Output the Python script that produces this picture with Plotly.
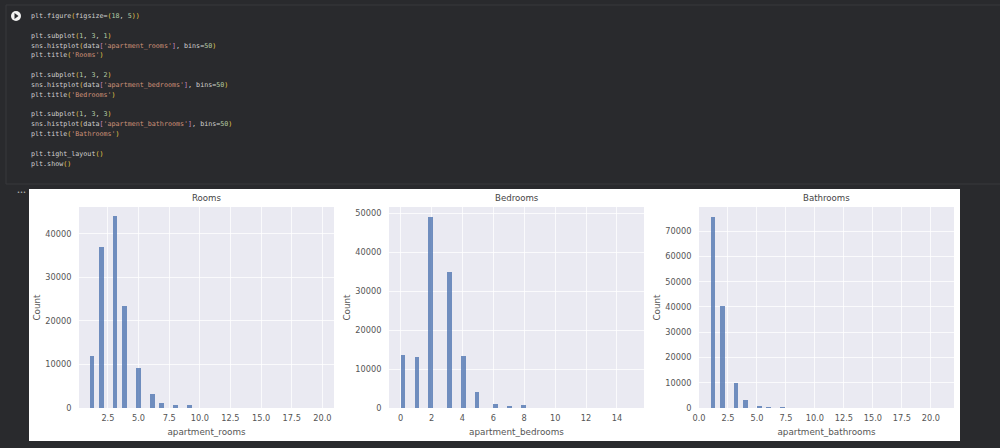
import numpy as np
import plotly.graph_objects as go

W, H = 1000, 448

rooms_values = [1, 2, 3, 4, 5, 6, 7, 8, 9]
rooms_counts = [12000, 37000, 44200, 23400, 9100, 3200, 1200, 600, 800]
bedrooms_values = [0, 1, 2, 3, 4, 5, 6, 7, 8]
bedrooms_counts = [13700, 13000, 49200, 35100, 13300, 4200, 1100, 600, 900]
bathrooms_values = [1, 2, 3, 4, 5, 6, 7, 8]
bathrooms_counts = [75800, 40300, 10100, 3300, 900, 400, 300, 100]

code_lines = [
    "plt.figure(figsize=(18, 5))",
    "",
    "plt.subplot(1, 3, 1)",
    "sns.histplot(data['apartment_rooms'], bins=50)",
    "plt.title('Rooms')",
    "",
    "plt.subplot(1, 3, 2)",
    "sns.histplot(data['apartment_bedrooms'], bins=50)",
    "plt.title('Bedrooms')",
    "",
    "plt.subplot(1, 3, 3)",
    "sns.histplot(data['apartment_bathrooms'], bins=50)",
    "plt.title('Bathrooms')",
    "",
    "plt.tight_layout()",
    "plt.show()",
]

BAR = "rgba(76,114,176,0.78)"
GRID_BG = "#eaeaf2"
GRID = "rgba(255,255,255,0.75)"
TICK = "#555555"
DARK = "#292a2d"


def colour_code(line):
    # rough syntax colours, same as the notebook
    out = ""
    in_str = False
    for ch in line:
        if ch == "'":
            if not in_str:
                out += "<span style='color:#ce9178'>'"
            else:
                out += "'</span>"
            in_str = not in_str
        elif in_str:
            out += ch
        elif ch in "()":
            out += "<span style='color:#e6c84a'>" + ch + "</span>"
        elif ch in "[]":
            out += "<span style='color:#c586c0'>" + ch + "</span>"
        elif ch.isdigit():
            out += "<span style='color:#b5cea8'>" + ch + "</span>"
        else:
            out += ch
    return out


fig = go.Figure()

panels = [
    ("Rooms", "apartment_rooms", rooms_values, rooms_counts, (1, 20), (79, 334),
     [0.14, 20.95], 46200, [2.5, 5, 7.5, 10, 12.5, 15, 17.5, 20], [0, 10000, 20000, 30000, 40000]),
    ("Bedrooms", "apartment_bedrooms", bedrooms_values, bedrooms_counts, (0, 15), (389, 644),
     [-0.75, 15.75], 51700, [0, 2, 4, 6, 8, 10, 12, 14], [0, 10000, 20000, 30000, 40000, 50000]),
    ("Bathrooms", "apartment_bathrooms", bathrooms_values, bathrooms_counts, (1, 21), (699, 954),
     [0, 22], 79600, [0, 2.5, 5, 7.5, 10, 12.5, 15, 17.5, 20],
     [0, 10000, 20000, 30000, 40000, 50000, 60000, 70000]),
]

layout_axes = {}
for n, (title, xlabel, vals, counts, rng, px, xr, ytop, xt, yt) in enumerate(panels, start=1):
    # same binning as histplot(bins=50)
    hist, edges = np.histogram(vals, bins=50, range=rng, weights=counts)
    fig.add_trace(go.Bar(
        x=edges[:-1], y=hist, width=np.diff(edges), offset=0,
        marker=dict(color=BAR, line=dict(width=0)),
        xaxis="x%d" % n, yaxis="y%d" % n, showlegend=False,
    ))
    xtext = ["%g" % t if n == 2 else "%.1f" % t for t in xt]
    layout_axes["xaxis%d" % n] = dict(
        domain=[px[0] / W, px[1] / W], range=xr, anchor="y%d" % n,
        tickvals=xt, ticktext=xtext, ticks="outside", ticklen=2, tickcolor="rgba(0,0,0,0)",
        showline=False, zeroline=False,
        gridcolor=GRID, gridwidth=1, tickfont=dict(size=8.2, color=TICK),
        title=dict(text=xlabel, font=dict(size=8.8, color=TICK), standoff=7),
        automargin=False,
    )
    layout_axes["yaxis%d" % n] = dict(
        domain=[(H - 408) / H, (H - 207) / H], range=[0, ytop], anchor="x%d" % n,
        tickvals=yt, ticks="outside", ticklen=5, tickcolor="rgba(0,0,0,0)",
        showline=False, zeroline=False, tickformat="d",
        gridcolor=GRID, gridwidth=1, tickfont=dict(size=8.2, color=TICK),
        title=dict(text="Count", font=dict(size=8.8, color=TICK), standoff=2.5),
        automargin=False,
    )
    fig.add_annotation(
        text=title, xref="paper", yref="paper",
        x=(px[0] + px[1]) / 2 / W, y=(H - 198.5) / H, showarrow=False,
        xanchor="center", yanchor="middle", font=dict(size=8.6, color="#444444"),
    )

# notebook code cell text
line_y = 16
for line in code_lines:
    if line:
        fig.add_annotation(
            text=colour_code(line), xref="paper", yref="paper",
            x=29 / W, y=(H - line_y) / H, showarrow=False, align="left",
            xanchor="left", yanchor="middle",
            font=dict(family="DejaVu Sans Mono", size=6.7, color="#cfcfcf"),
        )
    line_y += 9.85

fig.add_annotation(
    text="•••", xref="paper", yref="paper", x=15 / W, y=(H - 192) / H, showarrow=False,
    font=dict(size=5, color="#c8c8c8"),
)


def paper_rect(x0, y0, x1, y1, **kw):
    return dict(type="rect", xref="paper", yref="paper", layer="below",
                x0=x0 / W, x1=x1 / W, y0=(H - y1) / H, y1=(H - y0) / H, **kw)


shapes = [
    paper_rect(29, 189, 960, 441, fillcolor="white", line=dict(width=0)),
    paper_rect(6, 5, 1004, 184, fillcolor="rgba(0,0,0,0)", line=dict(color="#38393c", width=1)),
    dict(type="circle", xref="paper", yref="paper", x0=11 / W, x1=21 / W,
         y0=(H - 21) / H, y1=(H - 11) / H, fillcolor="#f2f2f2", line=dict(width=0), layer="below"),
    dict(type="path", xref="paper", yref="paper", layer="above", fillcolor=DARK, line=dict(width=0),
         path="M %f %f L %f %f L %f %f Z" % (14.5 / W, (H - 13) / H, 18.5 / W, (H - 16) / H, 14.5 / W, (H - 19) / H)),
]
for px in [(79, 334), (389, 644), (699, 954)]:
    shapes.append(paper_rect(px[0], 207, px[1], 408, fillcolor=GRID_BG, line=dict(width=0)))

fig.update_layout(
    width=W, height=H, margin=dict(l=0, r=0, t=0, b=0),
    paper_bgcolor=DARK, plot_bgcolor=GRID_BG,
    font=dict(family="DejaVu Sans"),
    bargap=0, shapes=shapes, **layout_axes,
)

# the default page leaves an 8px body margin
fig.write_html("out.html", config=dict(displayModeBar=False),
               post_script="document.body.style.margin='0';document.body.style.background='%s';" % DARK)
